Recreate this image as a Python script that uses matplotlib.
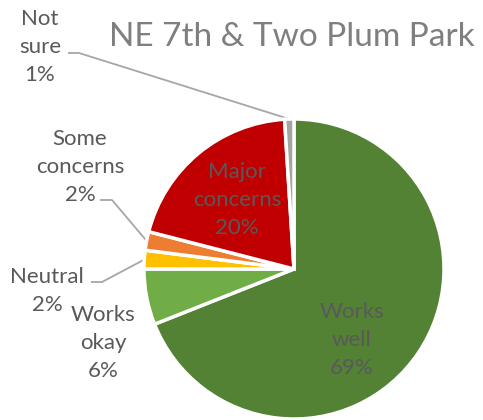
import matplotlib
matplotlib.use("Agg")
import matplotlib.pyplot as plt
import numpy as np

categories = ["Works well", "Works okay", "Neutral", "Some concerns", "Major concerns", "Not sure"]
values = [69, 6, 2, 2, 20, 1]
label_texts = ["Works\nwell\n69%", "Works\nokay\n6%", "Neutral\n2%", "Some\nconcerns\n2%", "Major\nconcerns\n20%", "Not\nsure\n1%"]
colors = ["#548235", "#70AD47", "#FFC000", "#ED7D31", "#C00000", "#A5A5A5"]
title = "NE 7th & Two Plum Park"

W, H = 483, 420
fig = plt.figure(figsize=(W / 100, H / 100), dpi=100)
ax = fig.add_axes([0, 0, 1, 1])

cx, cy, R = 294, H - 269, 150
explode = [0, 0.03, 0.03, 0.03, 0.03, 0.03]
wedges, _ = ax.pie(values, colors=colors, startangle=90, counterclock=False,
                   center=(cx, cy), radius=R, explode=explode,
                   wedgeprops=dict(edgecolor="white", linewidth=2.5),
                   frame=True)
ax.set_xlim(0, W)
ax.set_ylim(0, H)
ax.set_aspect("equal")
ax.axis("off")

fam = ["Lato", "DejaVu Sans"]
tc = "#595959"
fs = 16
ls = 1.5

# inside labels
ax.text(352, H - 340, label_texts[0], ha="center", va="center", fontsize=fs, color=tc,
        family=fam, linespacing=ls)
ax.text(237, H - 200, label_texts[4], ha="center", va="center", fontsize=fs, color=tc,
        family=fam, linespacing=ls)
ax.text(103, H - 343, label_texts[1], ha="center", va="center", fontsize=fs, color=tc,
        family=fam, linespacing=ls)


def edge_point(w, frac=1.0):
    ang = np.deg2rad((w.theta1 + w.theta2) / 2)
    c = w.center
    return (c[0] + w.r * frac * np.cos(ang), c[1] + w.r * frac * np.sin(ang))


lc = "#A6A6A6"
# outside labels with leader lines
outs = [(5, (40, H - 47), (68, H - 53), (79, H - 53)),
        (3, (80, H - 167), (100, H - 200), (112, H - 200)),
        (2, (47, H - 291), (91, H - 282), (102, H - 282))]
for idx, tpos, l0, l1 in outs:
    ax.text(tpos[0], tpos[1], label_texts[idx], ha="center", va="center", fontsize=fs,
            color=tc, family=fam, linespacing=ls)
    p = edge_point(wedges[idx])
    ax.plot([l0[0], l1[0], p[0]], [l0[1], l1[1], p[1]], color=lc, lw=1.3,
            solid_capstyle="butt", zorder=0)

ax.text(292, H - 37, title, ha="center", va="center", fontsize=24, color="#7F7F7F",
        family=fam)

fig.savefig("out.png", dpi=100)
